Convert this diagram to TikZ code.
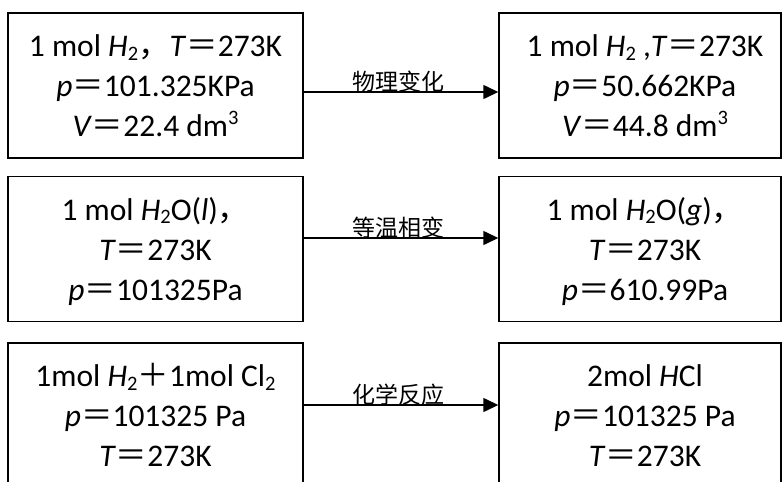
\documentclass[tikz,border=0pt]{standalone}
\usepackage{fontspec}
\setmainfont{Carlito}
\newfontfamily\cjk{Noto Sans CJK SC}
\usetikzlibrary{arrows.meta}
\newcommand\EQ{{\cjk ＝}}
\newcommand\FC{{\cjk ，}}
\newcommand\PL{{\cjk ＋}}
\newcommand\SB[1]{\raisebox{-0.12em}{\fontsize{20.5}{20.5}\selectfont #1}}
\newcommand\SP[1]{\raisebox{0.38em}{\fontsize{20.5}{20.5}\selectfont #1}}
\newcommand\TOP{\rule{0pt}{32pt}}
\newcommand\BOT{\rule[-10pt]{0pt}{10pt}}
\newcommand\RS{\hspace*{10pt}}
\begin{document}
\begin{tikzpicture}[x=1pt,y=-1pt,
  box/.style={draw, line width=1.4pt, minimum width=#1, minimum height=145pt, inner sep=0pt, align=center, font=\fontsize{31.5}{40}\selectfont},
  arr/.style={line width=1.4pt, -{Triangle[length=15pt,width=14pt]}},
  lab/.style={font=\cjk\fontsize{23}{23}\selectfont, inner sep=0pt, above, yshift=-1pt, xshift=-3pt}]
\useasboundingbox (0,0) rectangle (782,482);
\node[box=295pt] (a1) at (155.5,85.5) {\TOP 1 mol \textit{H}\SB{2}\FC\textit{T}\EQ273K\\ \textit{p}\EQ101.325KPa\\ \textit{V}\EQ22.4 dm\SP{3}\BOT};
\node[box=282pt] (b1) at (640,85.5) {\RS\TOP 1 mol \textit{H}\SB{2} ,\textit{T}\EQ273K\\ \RS\textit{p}\EQ50.662KPa\\ \RS\textit{V}\EQ44.8 dm\SP{3}\BOT};
\node[box=295pt] (a2) at (155.5,249) {\TOP 1 mol \textit{H}\SB{2}O(\textit{l})\FC\\ \textit{T}\EQ273K\\ \textit{p}\EQ101325Pa\BOT};
\node[box=282pt] (b2) at (640,249) {\RS\TOP 1 mol \textit{H}\SB{2}O(\textit{g})\FC\\ \RS\textit{T}\EQ273K\\ \RS\textit{p}\EQ610.99Pa\BOT};
\node[box=295pt] (a3) at (155.5,415.5) {\TOP 1mol \textit{H}\SB{2}\PL1mol Cl\SB{2}\\ \textit{p}\EQ101325 Pa\\ \textit{T}\EQ273K\BOT};
\node[box=282pt] (b3) at (640,415.5) {\RS\TOP 2mol \textit{H}Cl\\ \RS\textit{p}\EQ101325 Pa\\ \RS\textit{T}\EQ273K\BOT};
\draw[arr] (a1.east |- 0,92) -- (b1.west |- 0,92) node[lab, midway] (l1) {物理变化};
\draw[arr] (a2.east |- 0,238) -- (b2.west |- 0,238) node[lab, midway] (l2) {等温相变};
\draw[arr] (a3.east |- 0,405) -- (b3.west |- 0,405) node[lab, midway] (l3) {化学反应};
\end{tikzpicture}
\end{document}
